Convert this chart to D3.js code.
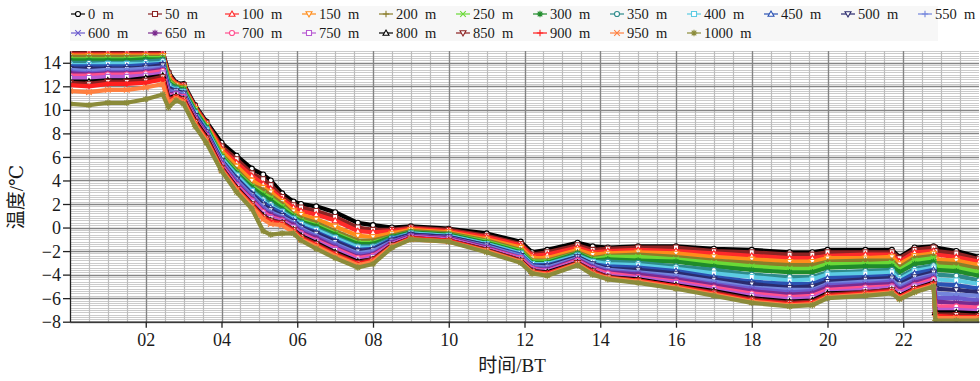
<!DOCTYPE html>
<html>
<head>
<meta charset="utf-8">
<script src="https://cdn.jsdelivr.net/npm/d3@7"></script>
<style>
body { margin: 0; background: #fff; }
text { font-family: "Liberation Serif", "Times New Roman", Times, "DejaVu Serif", "Noto Sans CJK SC", serif; fill: #1a1a1a; }
</style>
</head>
<body>
<script>
// time of day (h)
const hours = [0, 0.5, 1, 1.5, 2, 2.45, 2.6, 2.8, 3.0, 3.3, 3.6, 4.0, 4.4, 4.8, 5.1, 5.3, 5.6, 5.9, 6.1, 6.5, 7.0, 7.6, 8.0, 8.5, 9.0, 10.0, 11.0, 11.9, 12.2, 12.6, 13.4, 13.8, 14.2, 15, 16, 17, 18, 19, 19.6, 20, 21, 21.7, 21.9, 22.3, 22.8, 22.85, 23.4, 24];

const depths = [0, 50, 100, 150, 200, 250, 300, 350, 400, 450, 500, 550, 600, 650, 700, 750, 800, 850, 900, 950, 1000];

// temperature (deg C) per depth
const s0 = [14.9,14.9,14.9,14.9,14.9,14.9,13.2,12.3,12.2,10.4,9.0,7.2,6.1,5.0,4.5,4.0,2.9,2.2,2.0,1.8,1.3,0.4,0.2,0.0,0.1,-0.1,-0.5,-1.2,-2.1,-1.9,-1.3,-1.6,-1.7,-1.6,-1.6,-1.8,-1.9,-2.1,-2.1,-1.9,-1.9,-1.9,-2.5,-1.7,-1.6,-1.7,-2.0,-2.5];
const s50 = [14.8,14.8,14.8,14.8,14.8,14.8,13.1,12.2,12.1,10.3,8.9,6.9,5.8,4.6,4.1,3.6,2.6,1.9,1.7,1.4,0.9,0.0,-0.2,-0.2,0.0,-0.2,-0.7,-1.4,-2.3,-2.1,-1.5,-1.9,-1.8,-1.7,-1.7,-2.0,-2.1,-2.3,-2.3,-2.1,-2.1,-2.1,-2.6,-1.9,-1.7,-2.0,-2.2,-2.7];
const s100 = [14.7,14.7,14.7,14.7,14.7,14.7,12.9,12.2,12.0,10.2,8.8,6.7,5.5,4.4,3.7,3.3,2.4,1.7,1.4,1.1,0.6,-0.3,-0.4,-0.3,-0.1,-0.3,-0.8,-1.5,-2.4,-2.3,-1.7,-2.1,-2.0,-1.9,-2.0,-2.2,-2.4,-2.6,-2.6,-2.4,-2.3,-2.3,-2.9,-2.1,-2.0,-2.3,-2.5,-2.9];
const s150 = [14.6,14.6,14.6,14.6,14.6,14.6,12.8,12.1,11.9,10.1,8.7,6.5,5.2,4.0,3.4,3.0,2.2,1.4,1.1,0.7,0.1,-0.7,-0.8,-0.5,-0.2,-0.4,-1.0,-1.7,-2.6,-2.6,-1.9,-2.3,-2.2,-2.1,-2.2,-2.5,-2.7,-2.9,-2.9,-2.6,-2.6,-2.5,-3.1,-2.4,-2.2,-2.7,-2.8,-3.2];
const s200 = [14.5,14.5,14.5,14.5,14.5,14.5,12.6,12.0,11.9,10.0,8.6,6.2,4.9,3.6,3.2,2.7,2.0,1.1,0.8,0.4,-0.3,-1.1,-1.1,-0.7,-0.3,-0.5,-1.1,-1.9,-2.8,-2.8,-2.1,-2.6,-2.4,-2.3,-2.5,-2.8,-3.0,-3.2,-3.2,-2.9,-2.8,-2.8,-3.4,-2.6,-2.4,-3.0,-3.1,-3.5];
const s250 = [14.3,14.3,14.3,14.3,14.4,14.4,12.5,11.9,11.8,10.0,8.6,6.1,4.7,3.5,2.9,2.5,1.8,1.0,0.6,0.2,-0.5,-1.3,-1.3,-0.8,-0.4,-0.6,-1.2,-2.0,-2.9,-2.9,-2.2,-2.7,-2.5,-2.5,-2.7,-3.0,-3.3,-3.5,-3.5,-3.1,-3.1,-3.0,-3.6,-2.8,-2.6,-3.3,-3.4,-3.8];
const s300 = [14.2,14.2,14.2,14.2,14.3,14.3,12.3,11.9,11.7,9.9,8.5,6.0,4.6,3.4,2.7,2.3,1.6,0.9,0.5,0.1,-0.6,-1.4,-1.4,-0.8,-0.4,-0.6,-1.3,-2.1,-3.0,-3.0,-2.2,-2.8,-2.7,-2.8,-2.9,-3.3,-3.6,-3.8,-3.8,-3.4,-3.3,-3.3,-3.8,-3.1,-2.9,-3.6,-3.7,-4.1];
const s350 = [14.0,14.0,14.0,14.0,14.1,14.2,12.2,11.8,11.6,9.8,8.4,5.9,4.5,3.2,2.4,2.0,1.4,0.8,0.4,-0.1,-0.8,-1.6,-1.6,-0.9,-0.5,-0.7,-1.4,-2.2,-3.1,-3.1,-2.3,-2.9,-2.9,-3.0,-3.3,-3.6,-4.0,-4.2,-4.2,-3.8,-3.7,-3.6,-4.2,-3.5,-3.2,-4.0,-4.1,-4.5];
const s400 = [13.8,13.8,13.9,13.9,13.9,14.0,12.0,11.7,11.5,9.7,8.3,5.9,4.4,3.1,2.2,1.8,1.3,0.7,0.3,-0.2,-0.9,-1.7,-1.7,-1.0,-0.5,-0.7,-1.4,-2.2,-3.1,-3.1,-2.4,-2.9,-3.1,-3.2,-3.5,-3.9,-4.2,-4.5,-4.4,-4.0,-3.9,-3.8,-4.4,-3.7,-3.4,-4.4,-4.5,-4.8];
const s450 = [13.7,13.7,13.7,13.7,13.8,13.9,11.9,11.6,11.4,9.6,8.2,5.7,4.2,2.9,2.1,1.7,1.2,0.6,0.1,-0.4,-1.1,-1.9,-1.8,-1.0,-0.6,-0.8,-1.5,-2.3,-3.2,-3.2,-2.5,-3.1,-3.3,-3.4,-3.7,-4.2,-4.6,-4.8,-4.8,-4.3,-4.2,-4.1,-4.6,-3.9,-3.6,-4.8,-4.9,-5.2];
const s500 = [13.5,13.5,13.5,13.5,13.6,13.8,11.7,11.6,11.4,9.5,8.1,5.7,4.1,2.8,1.9,1.5,1.0,0.5,0.0,-0.5,-1.2,-2.0,-1.9,-1.1,-0.6,-0.8,-1.5,-2.4,-3.3,-3.3,-2.5,-3.1,-3.5,-3.6,-3.9,-4.4,-4.8,-5.1,-5.0,-4.6,-4.4,-4.3,-4.8,-4.2,-3.8,-5.2,-5.3,-5.5];
const s550 = [13.4,13.3,13.4,13.4,13.5,13.6,11.6,11.5,11.3,9.4,8.0,5.6,4.0,2.7,1.7,1.3,0.9,0.4,-0.1,-0.7,-1.4,-2.2,-2.0,-1.2,-0.7,-0.9,-1.6,-2.4,-3.3,-3.4,-2.6,-3.2,-3.6,-3.8,-4.1,-4.6,-5.1,-5.3,-5.3,-4.8,-4.6,-4.5,-5.0,-4.4,-4.0,-5.6,-5.7,-5.8];
const s600 = [13.2,13.1,13.2,13.2,13.3,13.5,11.5,11.4,11.2,9.4,8.0,5.5,3.9,2.6,1.6,1.2,0.8,0.3,-0.2,-0.8,-1.5,-2.3,-2.2,-1.2,-0.7,-0.9,-1.7,-2.5,-3.4,-3.5,-2.7,-3.3,-3.7,-3.9,-4.3,-4.8,-5.2,-5.5,-5.4,-4.9,-4.8,-4.6,-5.2,-4.5,-4.1,-6.0,-6.0,-6.2];
const s650 = [13.1,13.0,13.1,13.1,13.2,13.4,11.3,11.4,11.1,9.3,7.9,5.4,3.7,2.4,1.4,1.1,0.7,0.2,-0.4,-0.9,-1.7,-2.5,-2.3,-1.3,-0.7,-0.9,-1.7,-2.6,-3.5,-3.6,-2.7,-3.4,-3.8,-4.0,-4.4,-4.9,-5.4,-5.7,-5.6,-5.1,-4.9,-4.8,-5.3,-4.7,-4.3,-6.3,-6.4,-6.5];
const s700 = [12.9,12.9,13.0,13.0,13.1,13.3,11.2,11.3,11.1,9.2,7.8,5.3,3.6,2.3,1.3,0.9,0.6,0.0,-0.5,-1.1,-1.8,-2.6,-2.4,-1.4,-0.8,-1.0,-1.8,-2.6,-3.5,-3.7,-2.8,-3.5,-3.9,-4.2,-4.6,-5.1,-5.6,-5.9,-5.8,-5.3,-5.1,-5.0,-5.5,-4.9,-4.4,-6.7,-6.7,-6.8];
const s750 = [12.7,12.7,12.8,12.8,12.9,13.1,11.1,11.3,11.0,9.1,7.7,5.2,3.5,2.2,1.1,0.8,0.5,0.0,-0.6,-1.2,-1.9,-2.8,-2.5,-1.4,-0.8,-1.0,-1.8,-2.7,-3.6,-3.7,-2.9,-3.6,-4.1,-4.3,-4.7,-5.3,-5.8,-6.1,-6.0,-5.5,-5.3,-5.1,-5.6,-5.0,-4.6,-7.0,-7.0,-7.1];
const s800 = [12.4,12.4,12.5,12.5,12.7,12.9,11.0,11.2,10.9,9.1,7.7,5.1,3.4,2.0,1.0,0.6,0.4,-0.2,-0.7,-1.3,-2.1,-2.9,-2.7,-1.5,-0.9,-1.1,-1.9,-2.8,-3.7,-3.8,-3.0,-3.7,-4.2,-4.4,-4.9,-5.4,-6.0,-6.3,-6.2,-5.6,-5.5,-5.3,-5.8,-5.2,-4.7,-7.2,-7.2,-7.3];
const s850 = [12.3,12.2,12.4,12.4,12.5,12.8,10.9,11.1,10.9,9.0,7.6,5.1,3.3,2.0,0.9,0.6,0.4,-0.2,-0.8,-1.4,-2.2,-3.0,-2.7,-1.5,-0.9,-1.1,-1.9,-2.8,-3.7,-3.9,-3.0,-3.7,-4.2,-4.5,-5.0,-5.5,-6.1,-6.4,-6.3,-5.7,-5.5,-5.3,-5.9,-5.2,-4.8,-7.4,-7.4,-7.5];
const s900 = [12.1,12.0,12.2,12.2,12.3,12.6,10.7,11.1,10.8,8.9,7.5,5.0,3.3,1.9,0.8,0.5,0.3,-0.3,-0.9,-1.5,-2.3,-3.1,-2.8,-1.6,-0.9,-1.1,-2.0,-2.9,-3.8,-3.9,-3.1,-3.8,-4.3,-4.5,-5.0,-5.6,-6.2,-6.5,-6.4,-5.8,-5.6,-5.4,-5.9,-5.3,-4.8,-7.5,-7.6,-7.6];
const s950 = [11.6,11.5,11.7,11.7,11.9,12.2,10.6,11.0,10.7,8.8,7.4,4.9,3.2,1.8,0.7,0.3,0.2,-0.4,-1.0,-1.6,-2.4,-3.2,-2.9,-1.6,-1.0,-1.2,-2.0,-2.9,-3.8,-4.0,-3.1,-3.9,-4.3,-4.6,-5.1,-5.7,-6.3,-6.6,-6.5,-5.9,-5.7,-5.5,-6.0,-5.4,-4.9,-7.7,-7.7,-7.7];
const s1000 = [10.5,10.4,10.6,10.6,10.9,11.3,10.2,10.8,10.5,8.6,7.2,4.8,3.0,1.6,-0.3,-0.6,-0.5,-0.5,-1.1,-1.8,-2.6,-3.4,-3.1,-1.7,-1.0,-1.2,-2.1,-3.0,-3.9,-4.1,-3.2,-4.0,-4.4,-4.7,-5.2,-5.8,-6.4,-6.7,-6.6,-6.0,-5.8,-5.6,-6.1,-5.5,-5.0,-7.9,-7.9,-7.9];

const yTicks = [-8, -6, -4, -2, 0, 2, 4, 6, 8, 10, 12, 14];
const xTicks = [2, 4, 6, 8, 10, 12, 14, 16, 18, 20, 22];

const seriesValues = [s0, s50, s100, s150, s200, s250, s300, s350, s400, s450, s500, s550, s600, s650, s700, s750, s800, s850, s900, s950, s1000];

const colors = ["#000000", "#8b2323", "#ff2a2a", "#ff8c1a", "#8a7d2a", "#6ad936", "#1f8b2a", "#2e8b8b", "#5ccbe3", "#2a52b3",
    "#2b2b6e", "#7385dc", "#6a5acd", "#7b2a8e", "#ff4f8f", "#b85ad2", "#000000", "#8b2020", "#ff1f1f", "#ff8040", "#8b8b3a"];
const shapes = ["circle", "square", "up", "down", "plus", "cross", "star"];

const serif = "'Liberation Serif', 'Times New Roman', Times, 'DejaVu Serif', serif";

const width = 980;
const height = 381;

const x = d3.scaleLinear().domain([0, 24]).range([70, 979]);
const y = d3.scaleLinear().domain([-8, 15]).range([321.7, 51]);

const svg = d3.select("body")
    .append("svg")
    .attr("width", width)
    .attr("height", height);

const markerPath = {
    circle: d3.symbol(d3.symbolCircle, 20)(),
    square: "M-2.5,-2.5h5v5h-5Z",
    up: "M0,-3L3,2.2L-3,2.2Z",
    down: "M0,3L3,-2.2L-3,-2.2Z",
    plus: "M-3.2,0H3.2M0,-3.2V3.2",
    cross: "M-2.8,-2.8L2.8,2.8M-2.8,2.8L2.8,-2.8",
    star: "M-3.2,0H3.2M0,-3.2V3.2M-2.3,-2.3L2.3,2.3M-2.3,2.3L2.3,-2.3",
};
const openShape = (s) => ["plus", "cross", "star"].includes(s);

const series = depths.map((d, i) => ({
    depth: d,
    color: colors[i],
    shape: shapes[i % shapes.length],
    points: hours.map((h, j) => ({ h: h, v: seriesValues[i][j] })),
}));

// grid
const grid = svg.append("g").attr("class", "grid");

grid.selectAll(".hminor")
    .data(d3.range(0, 116).map((i) => -8 + i * 0.2))
    .enter()
    .append("line")
    .attr("x1", x(0))
    .attr("x2", x(24))
    .attr("y1", (d) => Math.round(y(d)) + 0.5)
    .attr("y2", (d) => Math.round(y(d)) + 0.5)
    .style("stroke", "#cbcbcb")
    .style("stroke-width", 1);

grid.selectAll(".vminor")
    .data(d3.range(1, 48).map((i) => i * 0.5))
    .enter()
    .append("line")
    .attr("x1", (d) => Math.round(x(d)) + 0.5)
    .attr("x2", (d) => Math.round(x(d)) + 0.5)
    .attr("y1", y(15))
    .attr("y2", y(-8))
    .style("stroke", "#bdbdbd")
    .style("stroke-width", 1.2);

grid.selectAll(".hmajor")
    .data(yTicks)
    .enter()
    .append("line")
    .attr("x1", x(0))
    .attr("x2", x(24))
    .attr("y1", (d) => Math.round(y(d)) + 0.5)
    .attr("y2", (d) => Math.round(y(d)) + 0.5)
    .style("stroke", "#858585")
    .style("stroke-width", 1.3);

grid.selectAll(".vmajor")
    .data(xTicks)
    .enter()
    .append("line")
    .attr("x1", (d) => Math.round(x(d)) + 0.5)
    .attr("x2", (d) => Math.round(x(d)) + 0.5)
    .attr("y1", y(15))
    .attr("y2", y(-8))
    .style("stroke", "#858585")
    .style("stroke-width", 1.3);

// data
svg.append("clipPath")
    .attr("id", "plot-clip")
    .append("rect")
    .attr("x", x(0))
    .attr("y", y(15))
    .attr("width", x(24) - x(0))
    .attr("height", y(-8) - y(15));

const plot = svg.append("g").attr("clip-path", "url(#plot-clip)");

const line = d3.line()
    .x((d) => x(d.h))
    .y((d) => y(d.v));

const groups = plot.selectAll(".series")
    .data(series)
    .enter()
    .append("g")
    .attr("class", "series");

groups.append("path")
    .attr("d", (d) => line(d.points))
    .style("fill", "none")
    .style("stroke", (d) => d.color)
    .style("stroke-width", 4.2)
    .style("stroke-linejoin", "round");

groups.each(function(s) {
    d3.select(this).selectAll(".mk")
        .data(s.points)
        .enter()
        .append("path")
        .attr("transform", (d) => `translate(${x(d.h)},${y(d.v)})`)
        .attr("d", markerPath[s.shape])
        .style("fill", openShape(s.shape) ? "none" : "#fff")
        .style("stroke", s.color)
        .style("stroke-width", 1.1);
});

// axes
const yAxis = svg.append("g")
    .attr("transform", `translate(${x(0)},0)`)
    .call(d3.axisLeft(y)
        .tickValues(yTicks)
        .tickSize(7)
        .tickSizeOuter(0)
        .tickFormat((d) => d < 0 ? "\u2212" + Math.abs(d) : String(d)));

const xAxis = svg.append("g")
    .attr("transform", `translate(0,${y(-8)})`)
    .call(d3.axisBottom(x)
        .tickValues(xTicks)
        .tickSize(6)
        .tickSizeOuter(0)
        .tickFormat((d) => String(d).padStart(2, "0")));

[yAxis, xAxis].forEach((ax) => {
    ax.attr("font-family", serif);
    ax.select(".domain").style("stroke", "#222").style("stroke-width", 1.3);
    ax.selectAll(".tick line").style("stroke", "#222").style("stroke-width", 1.3);
    ax.selectAll(".tick text")
        .style("font-family", serif)
        .style("font-size", "18px")
        .style("fill", "#1a1a1a");
});
yAxis.selectAll(".tick text").attr("x", -9).attr("dy", "0.34em");
xAxis.selectAll(".tick text").attr("y", 12);

svg.append("text")
    .attr("x", 512)
    .attr("y", 372)
    .attr("text-anchor", "middle")
    .style("font-size", "19px")
    .text("时间/BT");

svg.append("text")
    .attr("transform", "translate(23,197) rotate(-90)")
    .attr("text-anchor", "middle")
    .style("font-size", "19px")
    .text("温度/℃");

// legend
const legend = svg.append("g").attr("class", "legend");

legend.append("rect")
    .attr("x", 70)
    .attr("y", 6)
    .attr("width", 868)
    .attr("height", 35)
    .style("fill", "#f7f7f7");

const items = legend.selectAll(".item")
    .data(series)
    .enter()
    .append("g")
    .attr("class", "item")
    .attr("transform", (d, i) => `translate(${71 + 77 * (i % 12)},${i < 12 ? 14 : 33})`);

items.append("line")
    .attr("x1", 0)
    .attr("x2", 14)
    .style("stroke", (d) => d.color)
    .style("stroke-width", 1.2);

items.append("path")
    .attr("transform", "translate(7,0)")
    .attr("d", (d) => markerPath[d.shape])
    .style("fill", (d) => openShape(d.shape) ? "none" : "#fff")
    .style("stroke", (d) => d.color)
    .style("stroke-width", 1.1);

items.append("text")
    .attr("x", 17)
    .attr("dy", "0.35em")
    .style("font-family", serif)
    .style("font-size", "14.5px")
    .text((d) => `${d.depth}\u2002m`);
</script>
</body>
</html>
